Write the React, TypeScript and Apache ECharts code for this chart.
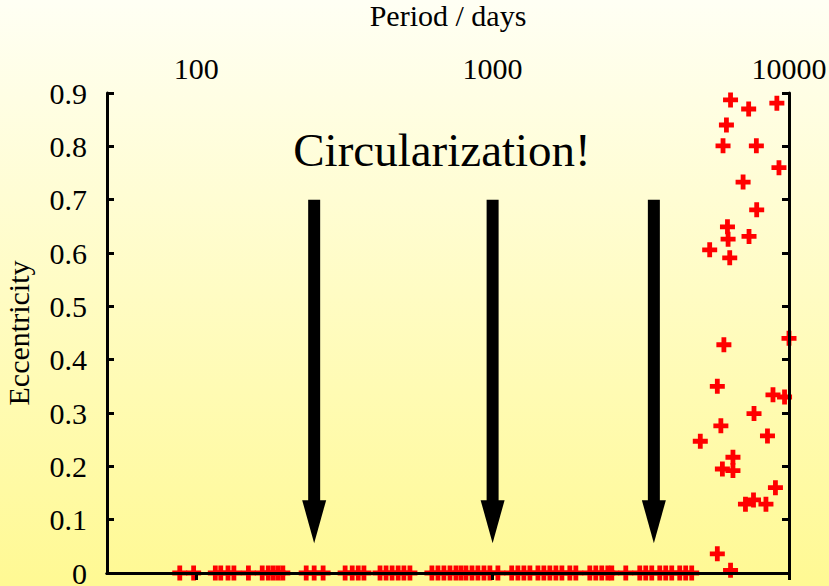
import React, { useEffect, useRef } from "react";
import * as echarts from "echarts";

// Circularized binaries (eccentricity ~ 0)
const circularPeriods = [
  88, 98, 116, 121, 128, 134, 150, 167, 175, 182, 189, 196, 235, 250, 268, 318,
  336, 352, 368, 417, 437, 458, 480, 502, 526, 624, 654, 685, 718, 752, 782, 813,
  852, 892, 935, 979, 1042, 1160, 1217, 1275, 1336, 1422, 1489, 1560, 1635, 1713,
  1822, 1909, 2128, 2229, 2335, 2447, 2524, 2814, 3137, 3286, 3443, 3664, 3838,
  4021, 4279, 4482, 4696,
];

// Eccentric long-period binaries
const eccPeriods = [
  6350, 7310, 9100, 6150, 5990, 7760, 9250, 7000, 7780, 6200, 6230, 7330, 5400,
  6310, 10000, 6030, 5730, 8830, 9660, 7620, 5890, 8460, 5020, 6470, 5960, 6470,
  9000, 7590, 7130, 8360, 5730, 6350,
];
const eccValues = [
  0.887, 0.870, 0.881, 0.840, 0.801, 0.801, 0.760, 0.733, 0.681, 0.649, 0.626,
  0.631, 0.606, 0.591, 0.440, 0.428, 0.350, 0.334, 0.330, 0.299, 0.276, 0.257,
  0.247, 0.217, 0.195, 0.192, 0.160, 0.137, 0.129, 0.129, 0.036, 0.005,
];

// Arrows
const arrowPeriods = [250, 1000, 3500];
const arrowTop = 0.7;
const arrowTip = 0.056;

const annotation = "Circularization!";
const xName = "Period / days";
const yName = "Eccentricity";

const FONT = "Liberation Serif, Times New Roman, serif";
const PLUS = "path://M0.34,0 H0.66 V0.34 H1 V0.66 H0.66 V1 H0.34 V0.66 H0 V0.34 H0.34 Z";

export default function App() {
  const ref = useRef<HTMLDivElement>(null);
  useEffect(() => {
    if (!ref.current) return;
    const chart = echarts.init(ref.current, null, { renderer: "svg" });
    const points: number[][] = [];
    circularPeriods.forEach((p) => points.push([p, 0]));
    eccPeriods.forEach((p, i) => points.push([p, eccValues[i]]));
    const arrows = arrowPeriods.map((p) => [p, arrowTop, arrowTip]);
    const logFmt = (v: number) => {
      const l = Math.log10(v);
      return Math.abs(l - Math.round(l)) < 1e-6 ? String(Math.round(Math.pow(10, Math.round(l)))) : "";
    };
    const lineStyle = { color: "#000", width: 3 };
    chart.setOption({
      animation: false,
      backgroundColor: new echarts.graphic.LinearGradient(0, 0, 0, 1, [
        { offset: 0, color: "#fffff4" },
        { offset: 1, color: "#fff993" },
      ]),
      textStyle: { fontFamily: FONT },
      title: {
        text: annotation,
        left: 442,
        top: 125,
        textAlign: "center",
        padding: 0,
        textStyle: {
          fontFamily: FONT,
          fontSize: 47,
          fontWeight: "normal",
          color: "#000",
          lineHeight: 50,
        },
      },
      grid: { left: 107, top: 93, width: 682, height: 480, containLabel: false, outerBoundsMode: "none" },
      xAxis: [
        {
          type: "log",
          logBase: 10,
          position: "top",
          min: 50,
          max: 10000,
          z: 5,
          name: xName,
          nameLocation: "middle",
          nameGap: 63,
          nameTextStyle: { fontFamily: FONT, fontSize: 30, color: "#000" },
          axisLine: { show: true, lineStyle },
          axisTick: { show: true, inside: true, length: 7, lineStyle: { color: "#000", width: 3 } },
          minorTick: { show: false },
          axisLabel: {
            formatter: logFmt,
            showMinLabel: false,
            fontFamily: FONT,
            fontSize: 30,
            color: "#000",
            margin: 10,
          },
          splitLine: { show: false },
        },
        {
          type: "log",
          logBase: 10,
          position: "bottom",
          min: 50,
          max: 10000,
          z: 5,
          axisLine: { show: true, lineStyle },
          axisTick: { show: false },
          axisLabel: { show: false },
          splitLine: { show: false },
        },
      ],
      yAxis: [
        {
          type: "value",
          min: 0,
          max: 0.9,
          interval: 0.1,
          position: "left",
          z: 5,
          name: yName,
          nameLocation: "middle",
          nameRotate: 90,
          nameGap: 74,
          nameTextStyle: { fontFamily: FONT, fontSize: 30, color: "#000" },
          axisLine: { show: true, lineStyle },
          axisTick: { show: true, inside: true, length: 7, lineStyle: { color: "#000", width: 3 } },
          axisLabel: {
            fontFamily: FONT,
            fontSize: 30,
            color: "#000",
            margin: 20,
            formatter: (v: number) => String(Math.round(v * 10) / 10),
          },
          splitLine: { show: false },
        },
        {
          type: "value",
          min: 0,
          max: 0.9,
          interval: 0.1,
          position: "right",
          z: 5,
          axisLine: { show: true, lineStyle },
          axisTick: { show: true, inside: true, length: 7, lineStyle: { color: "#000", width: 3 } },
          axisLabel: { show: false },
          splitLine: { show: false },
        },
      ],
      series: [
        {
          type: "custom",
          xAxisIndex: 0,
          yAxisIndex: 0,
          data: arrows,
          encode: { x: 0, y: [1, 2] },
          z: 3,
          renderItem: (params: any, api: any) => {
            const x = api.value(0);
            const top = api.coord([x, api.value(1)]);
            const tip = api.coord([x, api.value(2)]);
            const headLen = 43;
            const headW = 24;
            const shaftW = 12;
            const headTop = tip[1] - headLen;
            return {
              type: "group",
              children: [
                {
                  type: "rect",
                  shape: { x: top[0] - shaftW / 2, y: top[1], width: shaftW, height: headTop - top[1] + 1 },
                  style: { fill: "#000" },
                },
                {
                  type: "polygon",
                  shape: {
                    points: [
                      [top[0] - headW / 2, headTop],
                      [top[0] + headW / 2, headTop],
                      [tip[0], tip[1]],
                    ],
                  },
                  style: { fill: "#000" },
                },
              ],
            };
          },
        },
        {
          type: "scatter",
          xAxisIndex: 0,
          yAxisIndex: 0,
          data: points,
          symbol: PLUS,
          symbolSize: 15,
          clip: false,
          z: 2,
          itemStyle: { color: "#ff0000", opacity: 1 },
        },
      ],
    });
    return () => chart.dispose();
  }, []);
  return (
    <div
      ref={ref}
      style={{ position: "fixed", left: 0, top: 0, width: 829, height: 586 }}
    />
  );
}
